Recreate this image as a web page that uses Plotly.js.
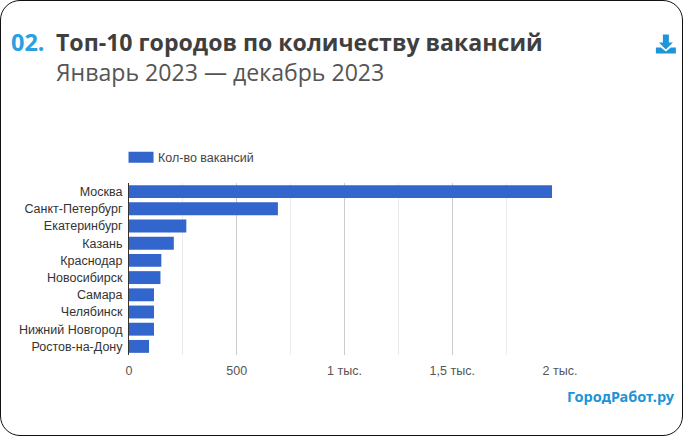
<!DOCTYPE html>
<html><head><meta charset="utf-8">
<script src="https://cdn.plot.ly/plotly-3.0.1.min.js"></script>
<style>
html,body{margin:0;padding:0;background:#fff;overflow:hidden}
#frame{position:absolute;left:0;top:0;width:681px;height:434px;border:1.5px solid #111;border-radius:20px;box-sizing:content-box}
#chart{position:absolute;left:0;top:0;width:683px;height:436px}
</style></head><body>
<div id="frame"></div>
<div id="chart"></div>
<script>
const cities = ["Москва","Санкт-Петербург","Екатеринбург","Казань","Краснодар","Новосибирск","Самара","Челябинск","Нижний Новгород","Ростов-на-Дону"];
const vacancies = [1963,691,266,208,150,146,116,116,116,93];
const tickValues = [0,500,1000,1500,2000];
const tickLabels = ["0","500","1 тыс.","1,5 тыс.","2 тыс."];
const seriesName = "Кол-во вакансий";
const W = 683, H = 436;
const blue = "#2a9fe2", barBlue = "#3366cc";

const trace = {type:"bar", orientation:"h", x:vacancies, y:cities, name:seriesName,
  marker:{color:barBlue}, showlegend:true, hoverinfo:"x+y"};

const text = (t,x,y,size,color,family,extra) => Object.assign({
  xref:"paper", yref:"paper", x:(x-128.5)/(560-128.5), y:(355.5-y)/(355.5-183),
  text:t, showarrow:false, xanchor:"left", yanchor:"middle",
  font:{size:size,color:color,family:family}}, extra||{});

const layout = {
  width:W, height:H, paper_bgcolor:"rgba(0,0,0,0)", plot_bgcolor:"rgba(0,0,0,0)",
  margin:{l:128.5,r:123,t:183,b:80.5}, bargap:0.25, showlegend:true,
  font:{family:"Liberation Sans, Arial, sans-serif",size:12.5,color:"#444"},
  legend:{x:-0.0185,y:1.148,xanchor:"left",yanchor:"middle",orientation:"h",itemwidth:30,
    bgcolor:"rgba(0,0,0,0)",font:{size:12.5,color:"#444"},itemclick:false,itemdoubleclick:false},
  xaxis:{range:[0,2000],tickvals:tickValues,ticktext:tickLabels,tickfont:{size:12.5,color:"#555"},
    showgrid:true,gridcolor:"#cccccc",gridwidth:1,zeroline:false,showline:false,ticks:"",ticklen:0,
    ticklabelstandoff:6,
    minor:{dtick:250,showgrid:true,gridcolor:"#ebebeb",gridwidth:1},fixedrange:true},
  yaxis:{autorange:"reversed",type:"category",tickfont:{size:12.5,color:"#333"},showgrid:false,
    showline:true,linecolor:"#333",linewidth:1,ticks:"",ticklen:0,ticklabelstandoff:3,fixedrange:true},
  annotations:[
    text("<b>02.</b>",8,42,23.5,blue,"Open Sans"),
    text("<b>Топ-10 городов по количеству вакансий</b><br><span style=\"color:#555\">Январь 2023 — декабрь 2023</span>",
      53.5,57,23.1,"#3f3f3f","Open Sans",{align:"left"}),
    text("<b>ГородРабот.ру</b>",565,397,14.5,"#1d95d4","Noto Sans")
  ],
  shapes:[
    {type:"path",xref:"paper",yref:"paper",fillcolor:"#1d95d8",line:{width:0},
     path:(()=>{
       const X=v=>(v-128.5)/(560-128.5),Y=v=>(355.5-v)/(355.5-183);
       const p=[[663,34],[669,34],[669,42],[673,42],[666,49],[659,42],[663,42]];
       const q=[[656,47],[661,47],[666,51],[671,47],[676,47],[676,53],[656,53]];
       const s=a=>"M"+a.map(c=>X(c[0])+","+Y(c[1])).join("L")+"Z";
       return s(p)+s(q);
     })()}
  ]
};
Plotly.newPlot("chart",[trace],layout,{displayModeBar:false}).then(()=>{
  document.querySelectorAll("#chart .legend .legendbar path, #chart .legend .legendpoints path").forEach(p=>{
    p.setAttribute("d","M12.5,5.5H-12.5V-5.5H12.5Z");
  });
  document.querySelectorAll("#chart .legend text.legendtext").forEach(t=>{
    t.setAttribute("x", parseFloat(t.getAttribute("x")) - 3);
  });
});
</script>
</body></html>
